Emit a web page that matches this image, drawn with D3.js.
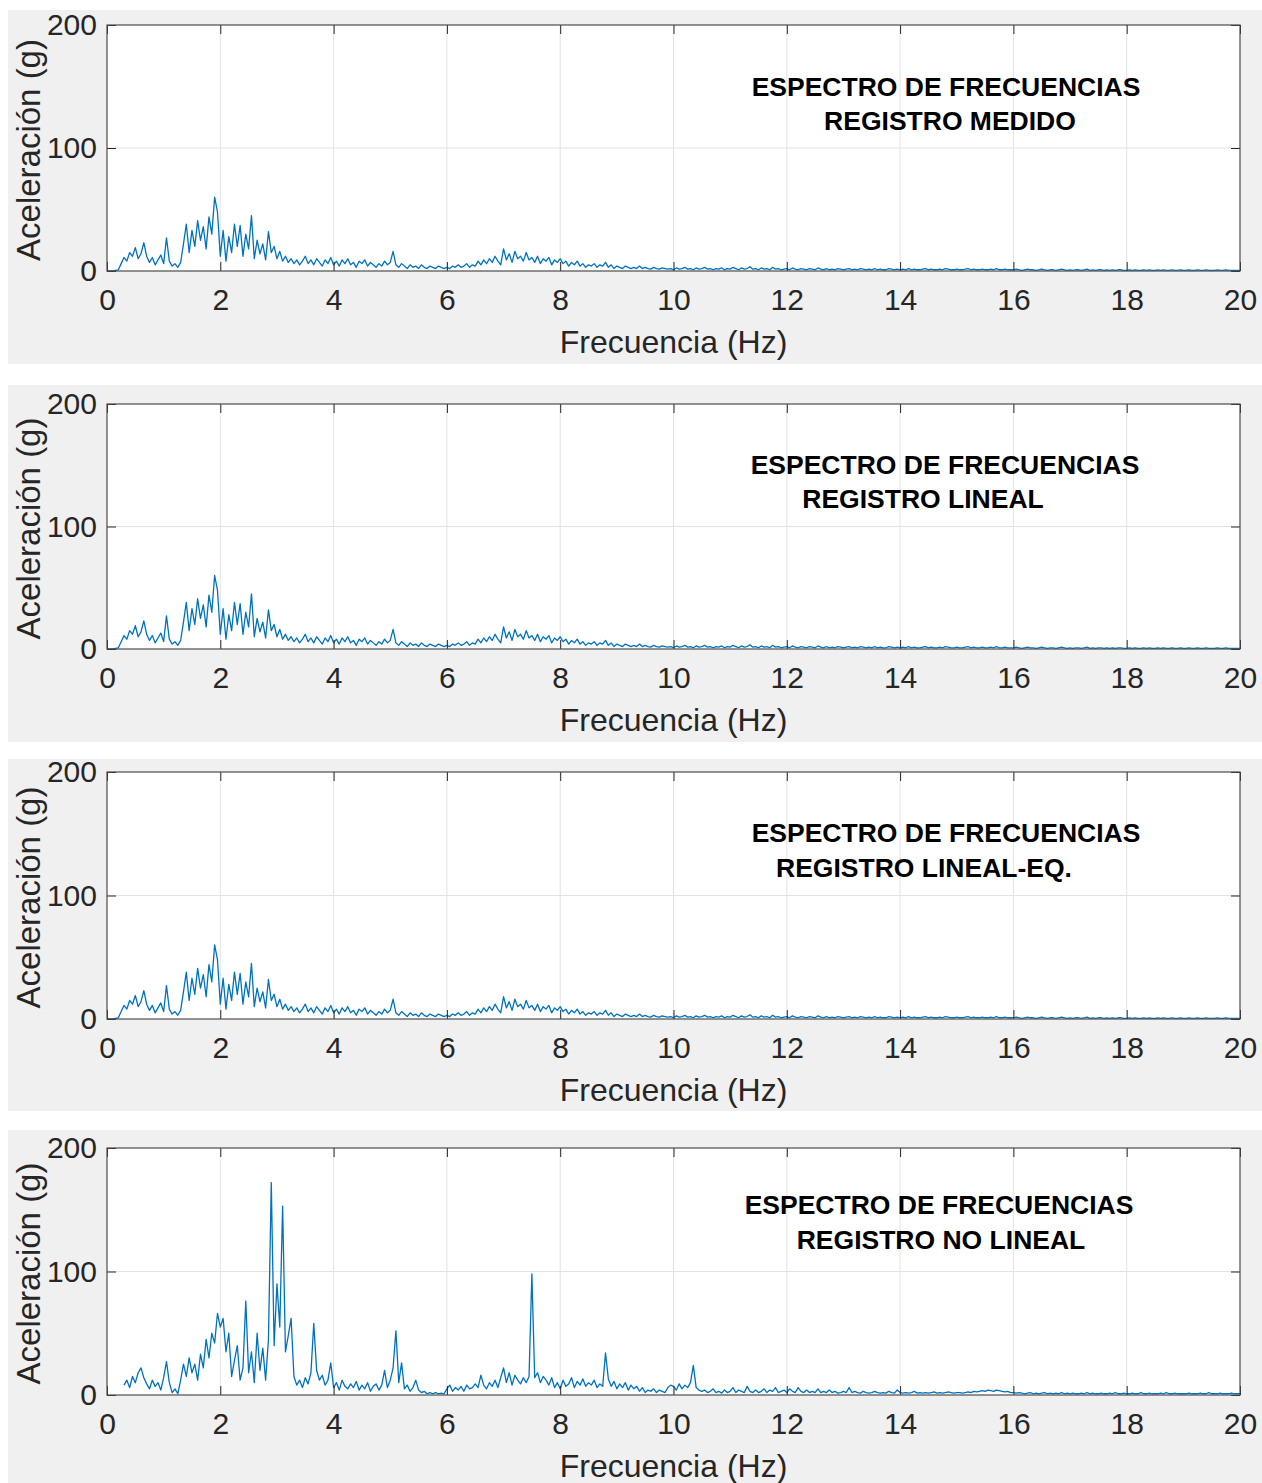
<!DOCTYPE html>
<html>
<head>
<meta charset="utf-8">
<script src="https://cdn.jsdelivr.net/npm/d3@7"></script>
<style>
  body { margin: 0; background: #ffffff; }
  svg { display: block; font-family: "Liberation Sans", Arial, sans-serif; }
</style>
</head>
<body>
<div id="chart"></div>
<script>
// frequency step of the spectra (Hz); each row below covers 1 Hz (20 bins)
var df = 0.05;

// Registro medido (also used for lineal and lineal-eq, they look the same)
var medidoRows = [
  [0, 0, 0, 0.5, 1, 6, 11, 8, 15, 12, 19, 10, 14, 23, 12, 7, 11, 5, 9, 13],
  [6, 27, 8, 4, 6, 3, 7, 22, 38, 15, 33, 20, 41, 25, 36, 18, 44, 30, 60, 48],
  [12, 33, 8, 28, 15, 38, 20, 37, 12, 30, 18, 45, 10, 25, 14, 22, 9, 32, 15, 20],
  [10, 16, 8, 12, 7, 10, 6, 9, 5, 8, 12, 6, 9, 5, 10, 7, 4, 9, 6, 11],
  [5, 8, 4, 9, 6, 10, 5, 7, 3, 8, 6, 9, 4, 7, 5, 3, 6, 4, 8, 5],
  [7, 16, 5, 3, 6, 4, 2, 5, 3, 4, 2, 5, 3, 2, 4, 3, 2, 4, 3, 2],
  [3, 2, 4, 3, 5, 3, 4, 6, 3, 5, 4, 8, 5, 9, 6, 10, 7, 12, 8, 5],
  [18, 9, 14, 7, 16, 10, 12, 8, 15, 9, 11, 7, 12, 6, 10, 8, 11, 5, 9, 7],
  [10, 6, 8, 4, 7, 5, 8, 4, 6, 3, 5, 4, 6, 3, 5, 4, 7, 3, 5, 2],
  [4, 3, 2, 4, 3, 2, 3, 2, 4, 2, 3, 2, 1.5, 3, 2, 1.5, 2.5, 2, 1.5, 2],
  [1, 2.5, 1.5, 2, 3, 1.5, 2, 1, 2.5, 1.5, 2, 3, 1.5, 2, 1, 2, 1.5, 2.5, 1, 2],
  [1.5, 3, 2, 1, 2.5, 1.5, 2, 3.5, 1.5, 2, 1, 2.5, 1.5, 2, 1, 3, 1.5, 2, 1, 1.5],
  [2, 1, 2.5, 1.5, 1, 2, 1.5, 1, 2, 1.5, 1, 2.5, 1.5, 1, 2, 1, 1.5, 1, 2, 1.5],
  [1, 1.5, 2, 1, 1.5, 1, 2, 1.5, 1, 1.5, 1, 2, 1, 1.5, 1, 1, 2, 1.5, 1, 1.5],
  [1, 1.5, 1, 2, 1, 1.5, 1, 1, 1.5, 2, 1, 1.5, 1, 1, 1.5, 1, 2, 1.5, 1, 1],
  [1.5, 1, 1, 1.5, 2, 1, 1.5, 1, 1, 1.5, 1, 1, 1.5, 1, 2, 1, 1, 1.5, 1, 1],
  [1, 1.5, 1, 0.5, 1, 1.5, 1, 1, 0.5, 1, 1.5, 1, 0.5, 1, 1, 0.5, 1, 1.5, 1, 0.5],
  [1, 0.5, 1, 1, 0.5, 1, 1.5, 0.5, 1, 0.5, 1, 1, 0.5, 1, 0.5, 1, 0.5, 1, 1, 0.5],
  [0.5, 1, 0.5, 1, 0.5, 0.5, 1, 0.5, 1, 0.5, 0.5, 1, 0.5, 1, 0.5, 0.5, 1, 0.5, 0.5, 1],
  [0.5, 0.5, 1, 0.5, 0.5, 1, 0.5, 0.5, 1, 0.5, 0.5, 0.5, 1, 0.5, 0.5, 1, 0.5, 0.5, 0.5, 0.5],
  [0.5]
];

// Registro no lineal (starts at 0.3 Hz)
var noLinealRows = [
  [null, null, null, null, null, null, 8, 12, 6, 15, 10, 18, 22, 14, 9, 5, 12, 7, 10, 4],
  [14, 27, 10, 2, 5, 1, 12, 25, 15, 30, 18, 25, 12, 33, 22, 45, 30, 50, 42, 66],
  [55, 62, 35, 50, 15, 28, 40, 12, 22, 76, 18, 35, 10, 50, 20, 38, 12, 45, 172, 40],
  [90, 55, 153, 35, 48, 62, 15, 8, 12, 6, 14, 9, 18, 58, 20, 12, 16, 8, 12, 26],
  [6, 10, 4, 12, 7, 5, 9, 6, 11, 4, 8, 5, 10, 3, 7, 9, 4, 8, 20, 6],
  [12, 22, 52, 10, 26, 5, 8, 3, 6, 12, 4, 2, 3, 1, 2, 1, 2, 1, 1.5, 1],
  [5, 8, 3, 6, 4, 7, 3, 8, 5, 6, 9, 6, 16, 8, 5, 10, 7, 12, 6, 14],
  [22, 10, 18, 8, 16, 12, 9, 14, 10, 15, 98, 14, 18, 10, 15, 12, 8, 14, 6, 10],
  [5, 12, 7, 9, 14, 6, 11, 8, 13, 7, 10, 8, 12, 6, 9, 7, 34, 13, 7, 11],
  [5, 9, 6, 10, 4, 8, 5, 7, 3, 6, 2, 4, 3, 5, 2, 4, 3, 2, 6, 8],
  [7, 4, 9, 5, 8, 6, 10, 24, 6, 4, 3, 4, 2, 3, 5, 2, 3, 1.5, 4, 2],
  [3, 6, 2, 4, 3, 2, 7, 3, 2, 4, 2, 3, 5, 2, 4, 3, 6, 2, 3, 4],
  [2, 5, 3, 2, 6, 3, 2, 4, 2, 3, 2, 5, 2, 3, 2, 4, 2, 3, 1.5, 2],
  [3, 2, 6, 2, 3, 2, 1.5, 3, 2, 1.5, 2, 3, 2, 1.5, 2, 1.5, 3, 2, 1.5, 4],
  [2, 1.5, 2, 1.5, 2, 3, 1.5, 2, 1.5, 2, 1.5, 2, 2.5, 1.5, 2, 1.5, 2, 2.5, 2, 1.5],
  [2, 2, 1.5, 2, 2.5, 2, 3, 2.5, 3, 3.5, 3, 4, 3.5, 3, 4, 3.5, 3, 2.5, 3, 2],
  [2, 1.5, 2, 1.5, 1, 1.5, 2, 1, 1.5, 1, 1.5, 2, 1, 1.5, 1, 1.5, 1, 2, 1, 1.5],
  [1, 1.5, 1, 1, 1.5, 1, 2, 1, 1.5, 1, 1, 1.5, 1, 1, 1.5, 1, 2, 1, 1, 1.5],
  [1, 1, 1.5, 1, 1, 2, 1, 1, 1.5, 1, 1, 1, 1.5, 1, 2, 1, 1, 1.5, 1, 1],
  [1, 1, 1.5, 1, 1, 1, 1.5, 1, 1, 2, 1, 1, 1, 1.5, 1, 1, 1, 1.5, 1, 1],
  [1]
];

var xTicks = [0, 2, 4, 6, 8, 10, 12, 14, 16, 18, 20];
var yTicks = [0, 100, 200];

var panelTitles = [
  ["ESPECTRO DE FRECUENCIAS", "REGISTRO MEDIDO"],
  ["ESPECTRO DE FRECUENCIAS", "REGISTRO LINEAL"],
  ["ESPECTRO DE FRECUENCIAS", "REGISTRO LINEAL-EQ."],
  ["ESPECTRO DE FRECUENCIAS", "REGISTRO NO LINEAL"]
];

// turn the rows into {f, a} points
function toPoints(rows) {
  var flat = [].concat.apply([], rows);
  return flat.map(function (a, i) { return { f: i * df, a: a }; });
}

var medido = toPoints(medidoRows);
var noLineal = toPoints(noLinealRows);
var series = [medido, medido, medido, noLineal];

// panel placement (grey figure area + axes box)
var panels = [
  { bgTop: 10, bgBottom: 364, top: 25, bottom: 271, t1: [946, 96], t2: [950, 130] },
  { bgTop: 385, bgBottom: 742, top: 404, bottom: 649, t1: [945, 474], t2: [923, 508] },
  { bgTop: 759, bgBottom: 1111, top: 772, bottom: 1019, t1: [946, 842], t2: [924, 877] },
  { bgTop: 1130, bgBottom: 1483, top: 1148, bottom: 1395, t1: [939, 1214], t2: [941, 1249] }
];

var width = 1262, height = 1483;
var left = 107, right = 1240;
var axisColor = "#262626";

var svg = d3.select("#chart").append("svg")
  .attr("width", width)
  .attr("height", height);

var x = d3.scaleLinear().domain([0, 20]).range([left, right]);

panels.forEach(function (p, k) {
  var y = d3.scaleLinear().domain([0, 200]).range([p.bottom, p.top]);

  // grey figure background
  svg.append("rect")
    .attr("x", 8).attr("y", p.bgTop)
    .attr("width", width - 8).attr("height", p.bgBottom - p.bgTop)
    .attr("fill", "#f0f0f0");

  // white axes area
  svg.append("rect")
    .attr("x", left).attr("y", p.top)
    .attr("width", right - left).attr("height", p.bottom - p.top)
    .attr("fill", "#ffffff");

  // grid
  svg.append("g").selectAll("line.vgrid")
    .data(xTicks.slice(1, -1))
    .enter().append("line")
    .attr("x1", function (d) { return x(d); })
    .attr("x2", function (d) { return x(d); })
    .attr("y1", p.top).attr("y2", p.bottom)
    .attr("stroke", "#e3e3e3");
  svg.append("g").selectAll("line.hgrid")
    .data(yTicks.slice(1, -1))
    .enter().append("line")
    .attr("x1", left).attr("x2", right)
    .attr("y1", function (d) { return y(d); })
    .attr("y2", function (d) { return y(d); })
    .attr("stroke", "#e3e3e3");

  // spectrum line
  var line = d3.line()
    .defined(function (d) { return d.a !== null; })
    .x(function (d) { return x(d.f); })
    .y(function (d) { return y(d.a); });

  svg.append("path")
    .datum(series[k])
    .attr("fill", "none")
    .attr("stroke", "#0072BD")
    .attr("stroke-width", 1.3)
    .attr("stroke-linejoin", "round")
    .attr("d", line);

  // axes (ticks point inwards like matlab)
  var xAxis = d3.axisBottom(x).tickValues(xTicks).tickSize(-9).tickPadding(18);
  var yAxis = d3.axisLeft(y).tickValues(yTicks).tickSize(-9).tickPadding(10);

  var gx = svg.append("g")
    .attr("transform", "translate(0," + p.bottom + ")")
    .call(xAxis);
  var gy = svg.append("g")
    .attr("transform", "translate(" + left + ",0)")
    .call(yAxis);
  var gxTop = svg.append("g")
    .attr("transform", "translate(0," + p.top + ")")
    .call(d3.axisTop(x).tickValues(xTicks).tickSize(-9).tickFormat(""));
  var gyRight = svg.append("g")
    .attr("transform", "translate(" + right + ",0)")
    .call(d3.axisRight(y).tickValues(yTicks).tickSize(-9).tickFormat(""));

  [gx, gy, gxTop, gyRight].forEach(function (g) {
    g.select(".domain").remove();
    g.selectAll("line").attr("stroke", axisColor);
    g.selectAll("text")
      .attr("fill", axisColor)
      .style("font-size", "30px")
      .style("font-family", "'Liberation Sans', Arial, sans-serif");
  });
  gx.selectAll("text").attr("dy", "0.71em");

  // axes box
  svg.append("rect")
    .attr("x", left).attr("y", p.top)
    .attr("width", right - left).attr("height", p.bottom - p.top)
    .attr("fill", "none")
    .attr("stroke", "#4d4d4d")
    .attr("stroke-width", 1.2);

  // axis labels
  svg.append("text")
    .attr("x", (left + right) / 2)
    .attr("y", p.bottom + 82)
    .attr("text-anchor", "middle")
    .attr("fill", axisColor)
    .style("font-size", "32px")
    .text("Frecuencia (Hz)");

  svg.append("text")
    .attr("transform", "translate(40," + ((p.top + p.bottom) / 2 + 2) + ") rotate(-90)")
    .attr("text-anchor", "middle")
    .attr("fill", axisColor)
    .style("font-size", "33px")
    .text("Aceleración (g)");

  // title inside the axes
  svg.append("text")
    .attr("x", p.t1[0]).attr("y", p.t1[1])
    .attr("text-anchor", "middle")
    .attr("font-weight", "bold")
    .style("font-size", "26.5px")
    .attr("fill", "#000000")
    .text(panelTitles[k][0]);
  svg.append("text")
    .attr("x", p.t2[0]).attr("y", p.t2[1])
    .attr("text-anchor", "middle")
    .attr("font-weight", "bold")
    .style("font-size", "26.5px")
    .attr("fill", "#000000")
    .text(panelTitles[k][1]);
});
</script>
</body>
</html>
